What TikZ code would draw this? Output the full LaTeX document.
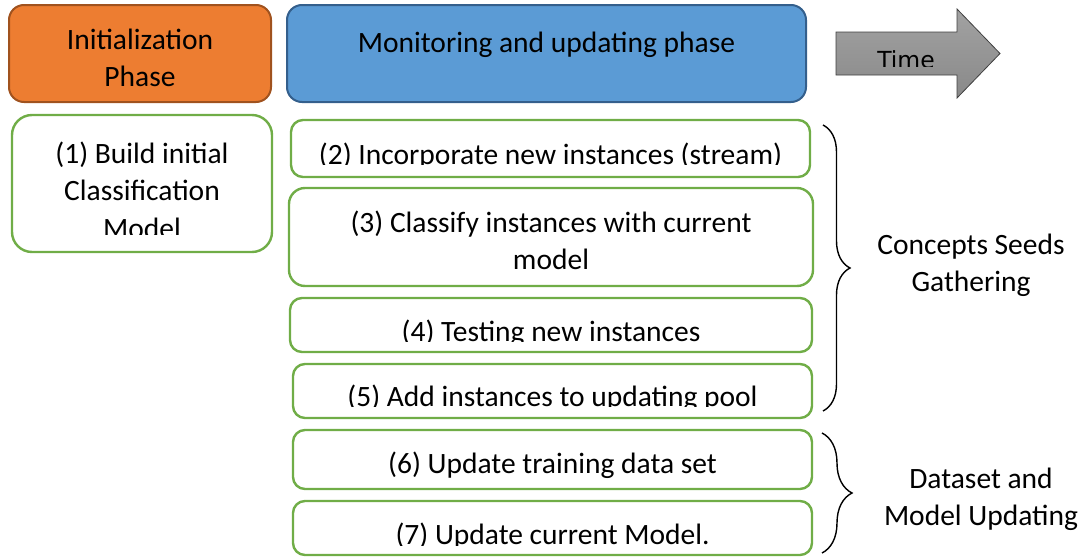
\documentclass[tikz,border=0pt]{standalone}
\usepackage{fontspec}
\setmainfont{Carlito}
\newfontfamily\arrowfont{DejaVu Sans}
\usetikzlibrary{decorations.pathreplacing}

\definecolor{phaseorange}{HTML}{ED7D31}
\definecolor{phaseorangeline}{HTML}{A0521E}
\definecolor{phaseblue}{HTML}{5B9BD5}
\definecolor{phaseblueline}{HTML}{345F8C}
\definecolor{stepgreen}{HTML}{70AD47}
\definecolor{arrowtop}{HTML}{A2A2A2}
\definecolor{arrowbottom}{HTML}{898989}

\tikzset{
  phasebox/.style={line width=2pt, rounded corners=15pt, inner sep=0pt},
  stepbox/.style={draw=stepgreen, line width=2.4pt, fill=white, rounded corners=12pt, inner sep=0pt},
  lbl/.style={font=\fontsize{29.5}{37.5}\selectfont, anchor=base, inner sep=0pt, align=center},
  bracket/.style={draw=black, line width=1.4pt, decorate},
}

\newcommand{\rows}[1]{\begin{tabular}[t]{@{}c@{}}#1\end{tabular}}

\begin{document}
\begin{tikzpicture}[x=1pt, y=-1pt]
\useasboundingbox (0,0) rectangle (1085,557);

% phase headers
\node[phasebox, draw=phaseorangeline, fill=phaseorange,
      minimum width=262pt, minimum height=97pt] (init) at (140,53.5) {};
\node[lbl] (initlbl) at (140,49) {\rows{Initialization\\Phase}};

\node[phasebox, draw=phaseblueline, fill=phaseblue,
      minimum width=519pt, minimum height=97pt] (mon) at (546.5,53.5) {};
\node[lbl] (monlbl) at (546.5,52) {Monitoring and updating phase};

% time arrow
\draw[draw=black!75, line width=0.8pt, top color=arrowtop, bottom color=arrowbottom]
  (836,32) -- (957,32) -- (957,9) -- (1000,53.5) -- (957,98) -- (957,75) -- (836,75) -- cycle;
\begin{scope}
  \clip (836,32) rectangle (957,66.5);
  \node[lbl, font=\arrowfont\fontsize{23.5}{28}\selectfont, text=black] (time) at (906,68.5) {Time};
\end{scope}

% step 1
\node[stepbox, rounded corners=20pt, minimum width=260pt, minimum height=137pt] (s1) at (142,183.5) {};
\begin{scope}
  \clip (20,120) rectangle (265,234);
  \node[lbl] (s1lbl) at (142,163) {\rows{(1) Build initial\\Classification\\Model}};
\end{scope}

% steps 2--7
\node[stepbox, minimum width=519pt, minimum height=57pt] (s2) at (550.5,148.5) {};
\begin{scope}
  \clip (295,122) rectangle (806,164);
  \node[lbl] (s2lbl) at (550.5,164) {(2) Incorporate new instances (stream)};
\end{scope}

\node[stepbox, rounded corners=16pt, minimum width=524pt, minimum height=98pt] (s3) at (551,237) {};
\node[lbl] (s3lbl) at (551,232) {\rows{(3) Classify instances with current\\model}};

\node[stepbox, minimum width=522pt, minimum height=54pt] (s4) at (551,325) {};
\begin{scope}
  \clip (295,300) rectangle (806,341.5);
  \node[lbl] (s4lbl) at (551,341) {(4) Testing new instances};
\end{scope}

\node[stepbox, minimum width=519pt, minimum height=54pt] (s5) at (552.5,391) {};
\begin{scope}
  \clip (297,366) rectangle (806,406.5);
  \node[lbl] (s5lbl) at (552.5,406) {(5) Add instances to updating pool};
\end{scope}

\node[stepbox, minimum width=519pt, minimum height=59pt] (s6) at (552.5,459.5) {};
\node[lbl] (s6lbl) at (552.5,473) {(6) Update training data set};

\node[stepbox, minimum width=519pt, minimum height=54pt] (s7) at (552.5,528) {};
\begin{scope}
  \clip (297,503) rectangle (806,545);
  \node[lbl] (s7lbl) at (552.5,544) {(7) Update current Model.};
\end{scope}

% braces and group labels
\coordinate (g1top) at (823,125);
\coordinate (g1bot) at (823,411);
\draw[bracket, decoration={brace, amplitude=27pt}] (g1top) -- (g1bot);
\node[lbl] (g1lbl) at (971,254) {\rows{Concepts Seeds\\Gathering}};

\coordinate (g2top) at (822,433);
\coordinate (g2bot) at (822,553);
\draw[bracket, decoration={brace, amplitude=30pt}] (g2top) -- (g2bot);
\node[lbl] (g2lbl) at (981,488) {\rows{Dataset and\\Model Updating}};
\end{tikzpicture}
\end{document}
